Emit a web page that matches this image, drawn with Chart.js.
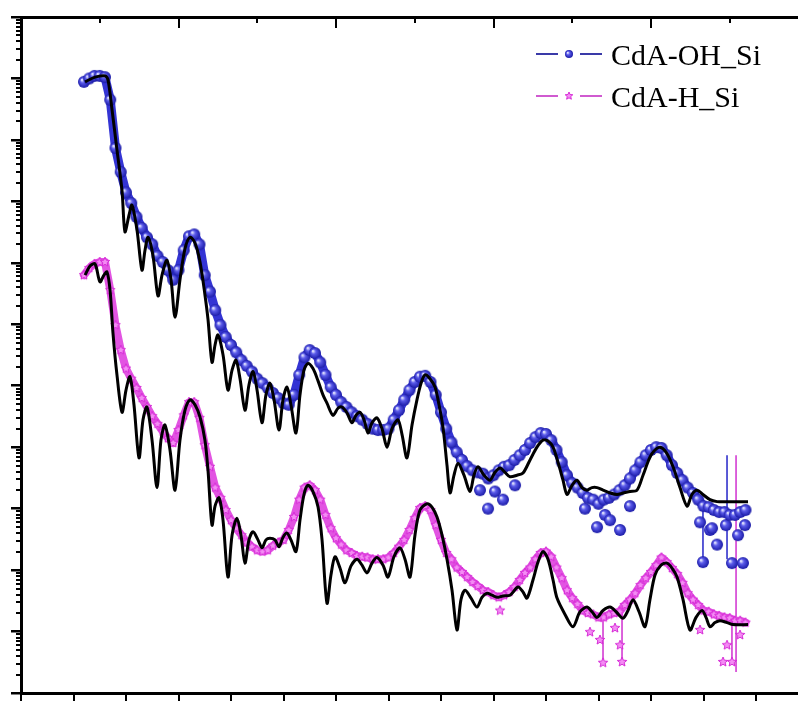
<!DOCTYPE html>
<html>
<head>
<meta charset="utf-8">
<script src="https://cdn.jsdelivr.net/npm/chart.js@4.4.1/dist/chart.umd.min.js"></script>
<style>
  html, body { margin: 0; padding: 0; background: #fff; }
</style>
</head>
<body>
<canvas id="myChart1" width="798" height="701"></canvas>
<script>
/*--data--*/
var dataQ = [0.060, 0.065, 0.070, 0.075, 0.080, 0.085, 0.090, 0.095, 0.100, 0.105,
  0.110, 0.115, 0.120, 0.125, 0.130, 0.135, 0.140, 0.145, 0.150, 0.155,
  0.160, 0.165, 0.170, 0.175, 0.180, 0.185, 0.190, 0.195, 0.200, 0.205,
  0.210, 0.215, 0.220, 0.225, 0.230, 0.235, 0.240, 0.245, 0.250, 0.255,
  0.260, 0.265, 0.270, 0.275, 0.280, 0.285, 0.290, 0.295, 0.300, 0.305,
  0.310, 0.315, 0.320, 0.325, 0.330, 0.335, 0.340, 0.345, 0.350, 0.355,
  0.360, 0.365, 0.370, 0.375, 0.380, 0.385, 0.390, 0.395, 0.400, 0.405,
  0.410, 0.415, 0.420, 0.425, 0.430, 0.435, 0.440, 0.445, 0.450, 0.455,
  0.460, 0.465, 0.470, 0.475, 0.480, 0.485, 0.490, 0.495, 0.500, 0.505,
  0.510, 0.515, 0.520, 0.525, 0.530, 0.535, 0.540, 0.545, 0.550, 0.555,
  0.560, 0.565, 0.570, 0.575, 0.580, 0.585, 0.590, 0.595, 0.600, 0.605,
  0.610, 0.615, 0.620, 0.625, 0.630, 0.635, 0.640, 0.645, 0.650, 0.655,
  0.660, 0.665, 0.670, 0.675, 0.680, 0.685, 0.690];

// CdA-OH_Si measured reflectivity
var ohR = [8.8e-1, 1.0, 1.1, 1.1, 1.05, 4.5e-1, 7.4e-2, 3.0e-2, 1.4e-2, 9.4e-3,
  5.6e-3, 3.7e-3, 2.6e-3, 2.0e-3, 1.3e-3, 1.03e-3, 7.6e-4, 5.3e-4, 7.6e-4, 1.6e-3,
  2.7e-3, 2.9e-3, 2.0e-3, 6.3e-4, 3.4e-4, 1.7e-4, 9.7e-5, 6.2e-5, 4.6e-5, 3.5e-5,
  2.6e-5, 2.1e-5, 1.7e-5, 1.3e-5, 1.1e-5, 9.2e-6, 7.6e-6, 6.3e-6, 5.2e-6, 4.9e-6,
  7.1e-6, 1.5e-5, 2.9e-5, 3.8e-5, 3.4e-5, 2.4e-5, 1.5e-5, 9.5e-6, 7.1e-6, 5.4e-6,
  4.5e-6, 3.7e-6, 3.2e-6, 2.8e-6, 2.4e-6, 2.0e-6, 1.9e-6, 1.9e-6, 2.0e-6, 2.8e-6,
  4.0e-6, 5.9e-6, 8.5e-6, 1.15e-5, 1.4e-5, 1.45e-5, 1.15e-5, 7.1e-6, 3.7e-6, 2.0e-6,
  1.2e-6, 8.3e-7, 6.2e-7, 4.9e-7, 4.2e-7, 3.9e-7, 3.7e-7, 3.1e-7, 3.5e-7, 4.2e-7,
  4.8e-7, 5.1e-7, 6.2e-7, 7.4e-7, 9.0e-7, 1.17e-6, 1.46e-6, 1.7e-6, 1.64e-6, 1.3e-6,
  9.0e-7, 5.7e-7, 3.5e-7, 2.6e-7, 2.2e-7, 1.8e-7, 1.5e-7, 1.4e-7, 1.2e-7, 1.4e-7,
  1.5e-7, 1.7e-7, 2.0e-7, 2.4e-7, 3.1e-7, 4.2e-7, 5.7e-7, 7.4e-7, 9.0e-7, 1.0e-6,
  9.7e-7, 7.4e-7, 5.1e-7, 3.8e-7, 2.9e-7, 2.2e-7, 1.8e-7, 1.4e-7, 1.1e-7, 1.06e-7,
  9.5e-8, 8.8e-8, 8.8e-8, 7.9e-8, 7.9e-8, 8.8e-8, 9.5e-8];

// CdA-H_Si measured reflectivity
var hR = [6.3e-4, 8.2e-4, 9.6e-4, 1.03e-3, 1.03e-3, 3.6e-4, 9.7e-5, 3.8e-5, 1.9e-5, 1.3e-5,
  9.2e-6, 6.3e-6, 4.5e-6, 3.2e-6, 2.4e-6, 1.8e-6, 1.4e-6, 1.17e-6, 1.9e-6, 3.3e-6,
  5.4e-6, 5.4e-6, 3.0e-6, 1.08e-6, 4.8e-7, 2.2e-7, 1.5e-7, 9.5e-8, 6.5e-8, 4.8e-8,
  3.7e-8, 2.8e-8, 2.4e-8, 2.1e-8, 2.0e-8, 2.1e-8, 2.5e-8, 2.8e-8, 3.1e-8, 4.5e-8,
  7.3e-8, 1.4e-7, 2.2e-7, 2.4e-7, 2.0e-7, 1.4e-7, 7.9e-8, 4.8e-8, 3.3e-8, 2.6e-8,
  2.1e-8, 1.9e-8, 1.7e-8, 1.65e-8, 1.6e-8, 1.5e-8, 1.5e-8, 1.5e-8, 1.6e-8, 1.9e-8,
  2.4e-8, 3.1e-8, 4.5e-8, 7.0e-8, 1.02e-7, 1.1e-7, 9.5e-8, 5.4e-8, 3.1e-8, 1.9e-8,
  1.5e-8, 1.1e-8, 9.3e-9, 7.7e-9, 6.4e-9, 5.5e-9, 4.7e-9, 4.4e-9, 3.9e-9, 3.6e-9,
  3.9e-9, 4.4e-9, 5.3e-9, 6.9e-9, 9.0e-9, 1.1e-8, 1.5e-8, 1.9e-8, 2.0e-8, 1.65e-8,
  1.1e-8, 7.4e-9, 4.7e-9, 3.5e-9, 2.8e-9, 2.2e-9, 2.0e-9, 1.9e-9, 1.7e-9, 1.7e-9,
  1.9e-9, 2.0e-9, 2.1e-9, 2.7e-9, 3.3e-9, 4.2e-9, 5.7e-9, 7.4e-9, 9.3e-9, 1.2e-8,
  1.6e-8, 1.35e-8, 1.08e-8, 8.6e-9, 6.2e-9, 4.2e-9, 3.3e-9, 2.7e-9, 2.2e-9, 2.1e-9,
  1.9e-9, 1.8e-9, 1.7e-9, 1.65e-9, 1.5e-9, 1.5e-9, 1.4e-9];

// scattered low points at high q
var ohLowQ = [0.4371, 0.4448, 0.4514, 0.4590, 0.4705, 0.5371, 0.5486, 0.5562, 0.5610, 0.5705, 0.5800,
  0.6467, 0.6495, 0.6562, 0.6581, 0.6629, 0.6714, 0.6771, 0.6829, 0.6876, 0.6895];
var ohLowR = [2.0e-7, 1.0e-7, 1.9e-7, 1.4e-7, 2.4e-7, 1.0e-7, 5.0e-8, 7.9e-8, 6.5e-8, 4.5e-8, 1.1e-7,
  6.0e-8, 1.35e-8, 4.5e-8, 4.8e-8, 2.6e-8, 5.4e-8, 1.3e-8, 3.7e-8, 1.3e-8, 5.4e-8];
var hLowQ = [0.4562, 0.5419, 0.5514, 0.5543, 0.5657, 0.5705, 0.5724, 0.6467, 0.6686, 0.6724, 0.6771, 0.6848];
var hLowR = [2.2e-9, 9.8e-10, 7.3e-10, 3.1e-10, 1.14e-9, 6.0e-10, 3.2e-10, 1.06e-9, 3.2e-10, 6.0e-10, 3.2e-10, 8.8e-10];

// error bars
var ohBarQ = [0.6495, 0.6724];
var ohBarLo = [1.35e-8, 1.5e-8];
var ohBarHi = [1.1e-7, 7.4e-7];
var hBarQ = [0.5543, 0.5724, 0.6771, 0.6810];
var hBarLo = [3.1e-10, 3.2e-10, 3.2e-10, 2.2e-10];
var hBarHi = [2.0e-9, 2.1e-9, 1.4e-9, 7.4e-7];

// fits
var ohFitQ = [0.0610, 0.0705, 0.0800, 0.0829, 0.0867, 0.0914, 0.0962, 0.0990, 0.1029, 0.1057,
  0.1105, 0.1152, 0.1181, 0.1210, 0.1257, 0.1305, 0.1343, 0.1390, 0.1429, 0.1467,
  0.1514, 0.1562, 0.1610, 0.1657, 0.1705, 0.1752, 0.1781, 0.1819, 0.1848, 0.1876,
  0.1924, 0.1971, 0.2010, 0.2048, 0.2086, 0.2133, 0.2171, 0.2210, 0.2248, 0.2295,
  0.2333, 0.2371, 0.2410, 0.2457, 0.2495, 0.2533, 0.2571, 0.2619, 0.2657, 0.2695,
  0.2733, 0.2781, 0.2829, 0.2876, 0.2914, 0.2971, 0.3019, 0.3057, 0.3105, 0.3152,
  0.3190, 0.3229, 0.3267, 0.3305, 0.3343, 0.3390, 0.3438, 0.3486, 0.3533, 0.3590,
  0.3629, 0.3676, 0.3724, 0.3771, 0.3810, 0.3848, 0.3895, 0.3943, 0.3981, 0.4019,
  0.4057, 0.4086, 0.4124, 0.4162, 0.4219, 0.4276, 0.4314, 0.4352, 0.4410, 0.4467,
  0.4514, 0.4562, 0.4610, 0.4657, 0.4724, 0.4781, 0.4848, 0.4914, 0.4971, 0.5019,
  0.5067, 0.5114, 0.5162, 0.5200, 0.5248, 0.5295, 0.5343, 0.5390, 0.5438, 0.5486,
  0.5543, 0.5610, 0.5676, 0.5733, 0.5800, 0.5867, 0.5924, 0.5990, 0.6038, 0.6086,
  0.6143, 0.6210, 0.6276, 0.6343, 0.6390, 0.6438, 0.6495, 0.6562, 0.6629, 0.6686,
  0.6800, 0.6924];
var ohFitR = [8.8e-1, 1.05, 1.1, 9.4e-1, 3.1e-1, 6.9e-2, 1.5e-2, 3.2e-3, 6.0e-3, 8.7e-3,
  3.4e-3, 7.6e-4, 1.6e-3, 2.6e-3, 1.3e-3, 2.9e-4, 6.3e-4, 1.1e-3, 5.3e-4, 1.3e-4,
  5.3e-4, 1.7e-3, 2.6e-3, 2.1e-3, 1.03e-3, 3.0e-4, 1.2e-4, 2.4e-5, 4.6e-5, 6.7e-5,
  3.2e-5, 8.5e-6, 1.8e-5, 2.6e-5, 1.3e-5, 4.0e-6, 1.03e-5, 1.7e-5, 8.5e-6, 2.5e-6,
  7.1e-6, 1.1e-5, 5.9e-6, 1.9e-6, 5.9e-6, 9.5e-6, 4.9e-6, 1.7e-6, 7.1e-6, 1.8e-5,
  2.3e-5, 1.9e-5, 1.2e-5, 7.1e-6, 5.2e-6, 3.3e-6, 4.3e-6, 4.5e-6, 3.6e-6, 2.5e-6,
  3.3e-6, 3.7e-6, 2.8e-6, 1.7e-6, 2.5e-6, 3.0e-6, 2.0e-6, 1.0e-6, 2.0e-6, 2.8e-6,
  1.6e-6, 6.7e-7, 2.3e-6, 5.9e-6, 1.1e-5, 1.5e-5, 1.3e-5, 9.5e-6, 4.9e-6, 2.1e-6,
  5.1e-7, 1.8e-7, 3.5e-7, 5.5e-7, 3.5e-7, 1.9e-7, 3.5e-7, 4.8e-7, 3.5e-7, 2.9e-7,
  3.9e-7, 4.6e-7, 3.9e-7, 3.3e-7, 3.5e-7, 3.8e-7, 6.2e-7, 1.0e-6, 1.3e-6, 1.26e-6,
  1.0e-6, 5.7e-7, 2.9e-7, 1.7e-7, 2.4e-7, 2.9e-7, 2.2e-7, 2.0e-7, 2.2e-7, 2.2e-7,
  2.0e-7, 1.8e-7, 1.7e-7, 1.8e-7, 1.9e-7, 2.0e-7, 3.5e-7, 6.9e-7, 9.0e-7, 1.0e-6,
  8.3e-7, 4.8e-7, 2.2e-7, 1.1e-7, 1.7e-7, 2.0e-7, 1.7e-7, 1.4e-7, 1.3e-7, 1.3e-7,
  1.3e-7, 1.3e-7];

var hFitQ = [0.0610, 0.0657, 0.0705, 0.0752, 0.0790, 0.0819, 0.0848, 0.0876, 0.0914, 0.0962,
  0.1000, 0.1038, 0.1076, 0.1124, 0.1162, 0.1200, 0.1248, 0.1295, 0.1333, 0.1371,
  0.1419, 0.1467, 0.1514, 0.1562, 0.1610, 0.1657, 0.1705, 0.1752, 0.1781, 0.1819,
  0.1848, 0.1886, 0.1924, 0.1971, 0.2010, 0.2057, 0.2095, 0.2133, 0.2171, 0.2210,
  0.2257, 0.2295, 0.2333, 0.2371, 0.2419, 0.2457, 0.2495, 0.2533, 0.2571, 0.2619,
  0.2657, 0.2695, 0.2733, 0.2781, 0.2829, 0.2867, 0.2914, 0.2952, 0.2990, 0.3038,
  0.3086, 0.3143, 0.3200, 0.3248, 0.3295, 0.3343, 0.3390, 0.3448, 0.3495, 0.3552,
  0.3610, 0.3657, 0.3705, 0.3752, 0.3800, 0.3867, 0.3914, 0.3962, 0.4010, 0.4057,
  0.4105, 0.4152, 0.4190, 0.4229, 0.4286, 0.4343, 0.4390, 0.4438, 0.4486, 0.4533,
  0.4590, 0.4657, 0.4733, 0.4781, 0.4819, 0.4876, 0.4924, 0.4971, 0.5019, 0.5067,
  0.5105, 0.5181, 0.5257, 0.5324, 0.5390, 0.5438, 0.5486, 0.5543, 0.5610, 0.5667,
  0.5733, 0.5781, 0.5829, 0.5886, 0.5943, 0.5990, 0.6038, 0.6095, 0.6152, 0.6200,
  0.6248, 0.6305, 0.6371, 0.6429, 0.6486, 0.6524, 0.6562, 0.6610, 0.6657, 0.6724,
  0.6781, 0.6924];
var hFitR = [6.3e-4, 8.9e-4, 9.6e-4, 4.9e-4, 6.3e-4, 7.1e-4, 3.6e-4, 7.2e-5, 1.5e-5, 3.7e-6,
  8.5e-6, 1.4e-5, 4.9e-6, 6.7e-7, 2.8e-6, 4.5e-6, 1.3e-6, 2.2e-7, 1.3e-6, 2.3e-6,
  9.0e-7, 2.0e-7, 1.3e-6, 4.0e-6, 5.9e-6, 4.9e-6, 3.1e-6, 1.3e-6, 4.2e-7, 5.4e-8,
  1.1e-7, 1.5e-7, 6.5e-8, 7.7e-9, 3.7e-8, 7.0e-8, 3.7e-8, 1.3e-8, 3.1e-8, 4.2e-8,
  3.1e-8, 2.3e-8, 3.1e-8, 3.3e-8, 3.1e-8, 2.4e-8, 3.4e-8, 4.0e-8, 3.1e-8, 2.0e-8,
  6.5e-8, 1.7e-7, 2.4e-7, 1.9e-7, 1.06e-7, 3.1e-8, 2.9e-9, 8.3e-9, 1.65e-8, 1.08e-8,
  6.2e-9, 1.17e-8, 1.5e-8, 1.2e-8, 9.0e-9, 1.3e-8, 1.6e-8, 1.2e-8, 7.7e-9, 1.65e-8,
  2.3e-8, 1.5e-8, 7.7e-9, 3.7e-8, 9.5e-8, 1.2e-7, 1.06e-7, 7.3e-8, 3.7e-8, 1.5e-8,
  4.7e-9, 1.06e-9, 3.3e-9, 4.7e-9, 3.5e-9, 2.5e-9, 3.6e-9, 4.2e-9, 3.9e-9, 3.6e-9,
  3.8e-9, 3.9e-9, 5.3e-9, 4.4e-9, 3.5e-9, 6.9e-9, 1.35e-8, 2.0e-8, 1.5e-8, 6.9e-9,
  3.5e-9, 1.9e-9, 1.2e-9, 2.1e-9, 2.5e-9, 2.1e-9, 1.7e-9, 2.2e-9, 2.5e-9, 2.1e-9,
  1.65e-9, 2.2e-9, 3.3e-9, 2.1e-9, 1.2e-9, 3.3e-9, 8.3e-9, 1.2e-8, 1.3e-8, 1.08e-8,
  7.7e-9, 3.3e-9, 1.06e-9, 1.7e-9, 2.2e-9, 1.7e-9, 1.2e-9, 1.4e-9, 1.5e-9, 1.4e-9,
  1.3e-9, 1.3e-9];

// tick positions (no labels shown in the picture)
var bottomTicks = [0, 0.05, 0.10, 0.15, 0.20, 0.25, 0.30, 0.35, 0.40, 0.45, 0.50, 0.55, 0.60, 0.65, 0.70];
var topMajorTicks = [0.15, 0.30, 0.45, 0.60];
var topMinorTicks = [0.075, 0.225, 0.375, 0.525, 0.675];
var yMajorTicks = [1e-10, 1e-9, 1e-8, 1e-7, 1e-6, 1e-5, 1e-4, 1e-3, 1e-2, 1e-1, 1, 10];
var yMinorTicks = [];
yMajorTicks.slice(0, -1).forEach(function (d) {
  [2, 3, 4, 5, 6, 7, 8, 9].forEach(function (m) { yMinorTicks.push(m * d); });
});

/*--marker images--*/
function ballImage(r) {
  var c = document.createElement('canvas');
  c.width = c.height = 2 * r + 2;
  var g = c.getContext('2d');
  var m = r + 1;
  var grad = g.createRadialGradient(m - r * 0.35, m - r * 0.35, 0.5, m, m, r);
  grad.addColorStop(0, '#e4e6ff');
  grad.addColorStop(0.35, '#5a5aea');
  grad.addColorStop(1, '#1a1aa6');
  g.fillStyle = grad;
  g.beginPath();
  g.arc(m, m, r, 0, Math.PI * 2);
  g.fill();
  return c;
}
function starImage(r) {
  var c = document.createElement('canvas');
  c.width = c.height = 2 * r + 2;
  var g = c.getContext('2d');
  var m = r + 1;
  g.beginPath();
  for (var i = 0; i < 10; i++) {
    var rr = i % 2 ? r * 0.45 : r;
    var a = -Math.PI / 2 + i * Math.PI / 5;
    g.lineTo(m + rr * Math.cos(a), m + rr * Math.sin(a));
  }
  g.closePath();
  g.fillStyle = '#f48cf4';
  g.fill();
  g.strokeStyle = '#d62ad6';
  g.lineWidth = 1;
  g.stroke();
  return c;
}
var ball = ballImage(6);
var star = starImage(5);
var ballSmall = ballImage(4);
var starSmall = starImage(4);

function pts(qs, rs) {
  return qs.map(function (q, i) { return {x: q, y: rs[i]}; });
}
function bars(qs, lo, hi, color) {
  return qs.map(function (q, i) {
    return {
      data: [{x: q, y: lo[i]}, {x: q, y: hi[i]}],
      showLine: true, borderColor: color, borderWidth: 1.5,
      pointRadius: 0, order: 3, xAxisID: 'x', yAxisID: 'y'
    };
  });
}

/*--legend in the corner--*/
var legendRows = [
  {index: 2, line: '#3a3aa8', icon: ballSmall},
  {index: 3, line: '#d05ad0', icon: starSmall}
];
var cornerLegend = {
  id: 'cornerLegend',
  afterDraw: function (chart) {
    var ctx = chart.ctx;
    ctx.save();
    ctx.font = '30px "Liberation Serif", "Times New Roman", serif';
    ctx.fillStyle = '#000';
    ctx.textBaseline = 'alphabetic';
    legendRows.forEach(function (row, i) {
      var y = 54 + i * 42;
      ctx.strokeStyle = row.line;
      ctx.lineWidth = 2;
      ctx.beginPath();
      ctx.moveTo(536, y); ctx.lineTo(558, y);
      ctx.moveTo(580, y); ctx.lineTo(602, y);
      ctx.stroke();
      ctx.drawImage(row.icon, 569 - row.icon.width / 2, y - row.icon.height / 2);
      ctx.fillText(chart.data.datasets[row.index].label, 611, y + 11);
    });
    ctx.restore();
  }
};

function tickAxis(extra) {
  var base = {
    ticks: {display: false},
    grid: {drawOnChartArea: false, drawTicks: true, tickWidth: 2, lineWidth: 2, tickColor: '#000'},
    border: {display: false}
  };
  return Object.assign(base, extra);
}

/*--myChart1--*/
var ctx = document.getElementById('myChart1').getContext('2d');
var myChart1 = new Chart(ctx, {
  type: 'scatter',
  plugins: [cornerLegend],
  data: {
    datasets: [
      {label: 'fit OH', data: pts(ohFitQ, ohFitR), showLine: true, borderColor: '#000', borderWidth: 3,
        pointRadius: 0, tension: 0.3, order: 0, xAxisID: 'x', yAxisID: 'y'},
      {label: 'fit H', data: pts(hFitQ, hFitR), showLine: true, borderColor: '#000', borderWidth: 3,
        pointRadius: 0, tension: 0.3, order: 0, xAxisID: 'x', yAxisID: 'y'},
      {label: 'CdA-OH_Si', data: pts(dataQ, ohR), showLine: true, borderColor: '#3434d4', borderWidth: 9,
        borderJoinStyle: 'round', borderCapStyle: 'round',
        pointStyle: ball, pointRadius: 6, order: 1, xAxisID: 'x', yAxisID: 'y'},
      {label: 'CdA-H_Si', data: pts(dataQ, hR), showLine: true, borderColor: '#e254e2', borderWidth: 8,
        borderJoinStyle: 'round', borderCapStyle: 'round',
        pointStyle: star, pointRadius: 5, order: 2, xAxisID: 'x', yAxisID: 'y'},
      {label: 'OH low', data: pts(ohLowQ, ohLowR), showLine: false, pointStyle: ball, pointRadius: 6,
        order: 1, xAxisID: 'x', yAxisID: 'y'},
      {label: 'H low', data: pts(hLowQ, hLowR), showLine: false, pointStyle: star, pointRadius: 5,
        order: 2, xAxisID: 'x', yAxisID: 'y'}
    ].concat(bars(ohBarQ, ohBarLo, ohBarHi, '#2424c8'), bars(hBarQ, hBarLo, hBarHi, '#d030d0'))
  },
  options: {
    responsive: false,
    animation: false,
    layout: {padding: 0, autoPadding: false},
    plugins: {legend: {display: false}, tooltip: {enabled: false}},
    scales: {
      x: tickAxis({
        type: 'linear', position: 'bottom', min: 0, max: 0.74,
        grid: {drawOnChartArea: false, drawTicks: true, tickLength: 9, tickWidth: 2, lineWidth: 2, tickColor: '#000'},
        border: {display: true, color: '#000', width: 3},
        afterBuildTicks: function (s) { s.ticks = bottomTicks.map(function (v) { return {value: v}; }); },
        afterFit: function (s) { s.height = 8; }
      }),
      xTop: tickAxis({
        type: 'linear', axis: 'x', position: 'top', min: 0, max: 0.74, weight: 1,
        grid: {drawOnChartArea: false, drawTicks: true, tickLength: -11, tickWidth: 2, lineWidth: 2, tickColor: '#000'},
        border: {display: true, color: '#000', width: 3},
        afterBuildTicks: function (s) { s.ticks = topMajorTicks.map(function (v) { return {value: v}; }); },
        afterFit: function (s) { s.height = 17; }
      }),
      xTopMinor: tickAxis({
        type: 'linear', axis: 'x', position: 'top', min: 0, max: 0.74, weight: 0,
        grid: {drawOnChartArea: false, drawTicks: true, tickLength: -6, tickWidth: 2, lineWidth: 2, tickColor: '#000'},
        afterBuildTicks: function (s) { s.ticks = topMinorTicks.map(function (v) { return {value: v}; }); },
        afterFit: function (s) { s.height = 0; }
      }),
      y: tickAxis({
        type: 'logarithmic', position: 'left', min: 1e-10, max: 10, weight: 1,
        grid: {drawOnChartArea: false, drawTicks: true, tickLength: 10, tickWidth: 2.5, lineWidth: 2.5, tickColor: '#000'},
        border: {display: true, color: '#000', width: 3},
        afterBuildTicks: function (s) { s.ticks = yMajorTicks.map(function (v) { return {value: v}; }); },
        afterFit: function (s) { s.width = 21; }
      }),
      yMinor: tickAxis({
        type: 'logarithmic', axis: 'y', position: 'left', min: 1e-10, max: 10, weight: 0,
        grid: {drawOnChartArea: false, drawTicks: true, tickLength: 5, tickWidth: 2, lineWidth: 2, tickColor: '#000'},
        afterBuildTicks: function (s) { s.ticks = yMinorTicks.map(function (v) { return {value: v}; }); },
        afterFit: function (s) { s.width = 0; }
      })
    }
  }
});
</script>
</body>
</html>
